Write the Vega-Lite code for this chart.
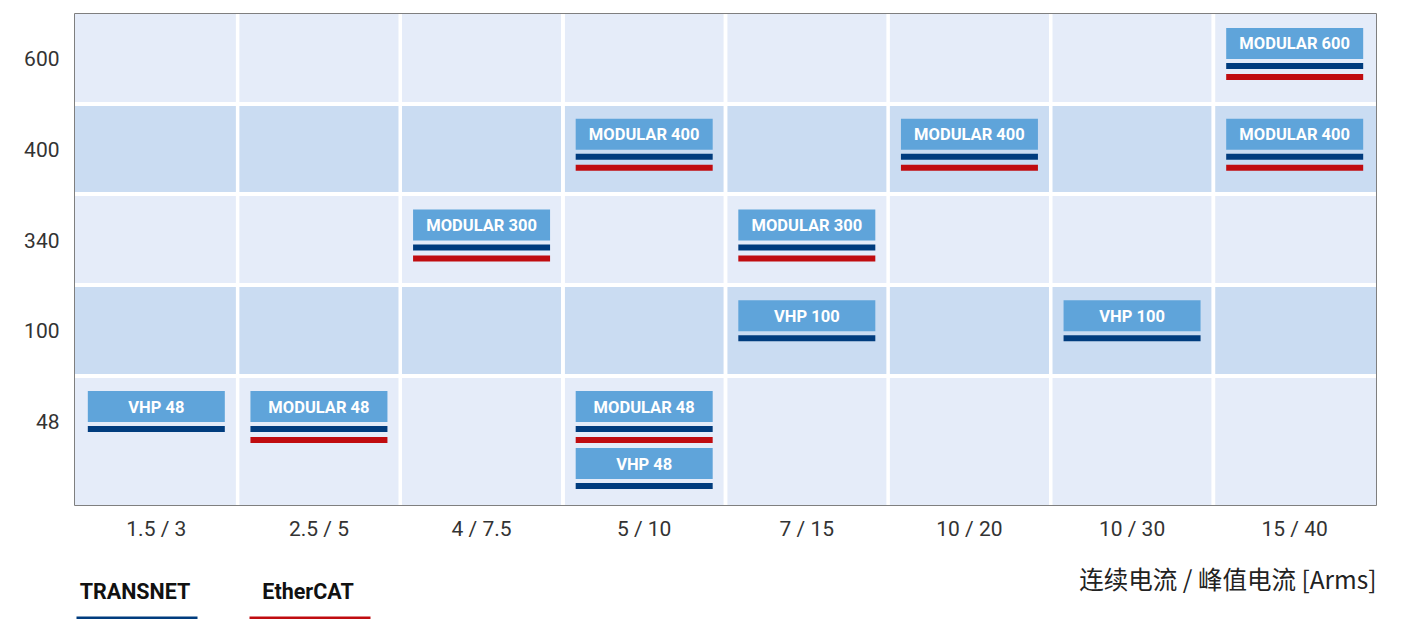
{
  "$schema": "https://vega.github.io/schema/vega-lite/v6.json",
  "width": 1301,
  "height": 491,
  "autosize": {"type": "none"},
  "padding": {"left": 75, "top": 14, "right": 41, "bottom": 114},
  "background": "white",
  "config": {"view": {"stroke": "#555555", "strokeWidth": 1.5}},
  "datasets": {
    "bands": [
      {"from": -0.325, "to": 0.667, "shade": "light"},
      {"from": 0.667, "to": 1.658, "shade": "dark"},
      {"from": 1.658, "to": 2.661, "shade": "light"},
      {"from": 2.661, "to": 3.664, "shade": "dark"},
      {"from": 3.664, "to": 5.085, "shade": "light"}
    ],
    "products": [
      {"current": "1.5 / 3", "slot": 4, "product": "VHP 48", "ethercat": false},
      {"current": "2.5 / 5", "slot": 4, "product": "MODULAR 48", "ethercat": true},
      {"current": "4 / 7.5", "slot": 2, "product": "MODULAR 300", "ethercat": true},
      {"current": "5 / 10", "slot": 1, "product": "MODULAR 400", "ethercat": true},
      {"current": "5 / 10", "slot": 4, "product": "MODULAR 48", "ethercat": true},
      {"current": "5 / 10", "slot": 4.628, "product": "VHP 48", "ethercat": false},
      {"current": "7 / 15", "slot": 2, "product": "MODULAR 300", "ethercat": true},
      {"current": "7 / 15", "slot": 3, "product": "VHP 100", "ethercat": false},
      {"current": "10 / 20", "slot": 1, "product": "MODULAR 400", "ethercat": true},
      {"current": "10 / 30", "slot": 3, "product": "VHP 100", "ethercat": false},
      {"current": "15 / 40", "slot": 0, "product": "MODULAR 600", "ethercat": true},
      {"current": "15 / 40", "slot": 1, "product": "MODULAR 400", "ethercat": true}
    ]
  },
  "layer": [
    {
      "data": {"name": "bands"},
      "mark": {"type": "rect"},
      "encoding": {
        "y": {
          "field": "from", "type": "quantitative",
          "scale": {"domain": [-0.325, 5.085], "reverse": true, "nice": false, "zero": false},
          "axis": {
            "values": [0, 1, 2, 3, 4],
            "labelExpr": "['600','400','340','100','48'][datum.value]",
            "labelOffset": 16,
            "labelPadding": 16,
            "ticks": false, "domain": false, "grid": false, "title": null,
            "labelFont": "Roboto", "labelFontSize": 21, "labelColor": "#333333"
          }
        },
        "y2": {"field": "to"},
        "fill": {"field": "shade", "type": "nominal",
          "scale": {"domain": ["light", "dark"], "range": ["#E5ECF9", "#CADCF2"]}, "legend": null}
      }
    },
    {
      "data": {"name": "bands"},
      "transform": [{"filter": "datum.to < 5"}],
      "mark": {"type": "rule", "color": "white", "strokeWidth": 4},
      "encoding": {
        "y": {"field": "to", "type": "quantitative",
          "scale": {"domain": [-0.325, 5.085], "reverse": true, "nice": false, "zero": false}}
      }
    },
    {
      "data": {"name": "products"},
      "transform": [{"filter": "datum.current != '1.5 / 3'"}],
      "mark": {"type": "rule", "color": "white", "strokeWidth": 3.5},
      "encoding": {
        "x": {
          "field": "current", "type": "ordinal", "bandPosition": 0,
          "scale": {"domain": ["1.5 / 3", "2.5 / 5", "4 / 7.5", "5 / 10", "7 / 15", "10 / 20", "10 / 30", "15 / 40"], "paddingInner": 0, "paddingOuter": 0},
          "axis": {
            "labelAngle": 0, "ticks": false, "domain": false, "grid": false,
            "labelPadding": 13, "labelFont": "Roboto", "labelFontSize": 21, "labelColor": "#333333",
            "title": "连续电流 / 峰值电流 [Arms]",
            "titleFont": "Noto Sans CJK SC", "titleFontSize": 24.5, "titleFontWeight": "normal", "titleColor": "#222222",
            "titleAnchor": "end", "titleAlign": "right", "titleY": 76, "titleBaseline": "middle"
          }
        }
      }
    },
    {
      "data": {"name": "products"},
      "mark": {"type": "tick", "orient": "horizontal", "size": 137, "thickness": 31, "color": "#5FA4DA", "opacity": 1},
      "encoding": {
        "x": {"field": "current", "type": "ordinal"},
        "y": {"field": "slot", "type": "quantitative",
          "scale": {"domain": [-0.325, 5.085], "reverse": true, "nice": false, "zero": false}}
      }
    },
    {
      "data": {"name": "products"},
      "mark": {"type": "tick", "orient": "horizontal", "size": 134, "thickness": 3, "strokeWidth": 3, "filled": false, "opacity": 1, "yOffset": 22.5},
      "encoding": {
        "x": {"field": "current", "type": "ordinal"},
        "y": {"field": "slot", "type": "quantitative",
          "scale": {"domain": [-0.325, 5.085], "reverse": true, "nice": false, "zero": false}},
        "color": {
          "datum": "TRANSNET",
          "scale": {"domain": ["TRANSNET", "EtherCAT"], "range": ["#003C7E", "#C00C10"]},
          "legend": {
            "orient": "none", "legendX": 0, "legendY": 517, "direction": "horizontal", "title": null,
            "symbolType": "M-1,0.413H1", "symbolSize": 14641, "symbolStrokeWidth": 3,
            "symbolFillColor": "transparent",
            "columnPadding": 39, "labelAlign": "center", "labelOffset": -64,
            "labelFont": "Roboto", "labelFontSize": 21.5, "labelFontWeight": "bold",
            "labelColor": "#111111", "padding": 0, "labelLimit": 300
          }
        }
      }
    },
    {
      "data": {"name": "products"},
      "transform": [{"filter": "datum.ethercat"}],
      "mark": {"type": "tick", "orient": "horizontal", "size": 134, "thickness": 3, "strokeWidth": 3, "filled": false, "opacity": 1, "yOffset": 33.5},
      "encoding": {
        "x": {"field": "current", "type": "ordinal"},
        "y": {"field": "slot", "type": "quantitative",
          "scale": {"domain": [-0.325, 5.085], "reverse": true, "nice": false, "zero": false}},
        "color": {"datum": "EtherCAT"}
      }
    },
    {
      "data": {"name": "products"},
      "mark": {"type": "text", "color": "white", "font": "Roboto", "fontSize": 16.5, "fontWeight": "bold", "align": "center", "baseline": "middle", "dy": 1},
      "encoding": {
        "x": {"field": "current", "type": "ordinal"},
        "y": {"field": "slot", "type": "quantitative",
          "scale": {"domain": [-0.325, 5.085], "reverse": true, "nice": false, "zero": false}},
        "text": {"field": "product"}
      }
    }
  ]
}
